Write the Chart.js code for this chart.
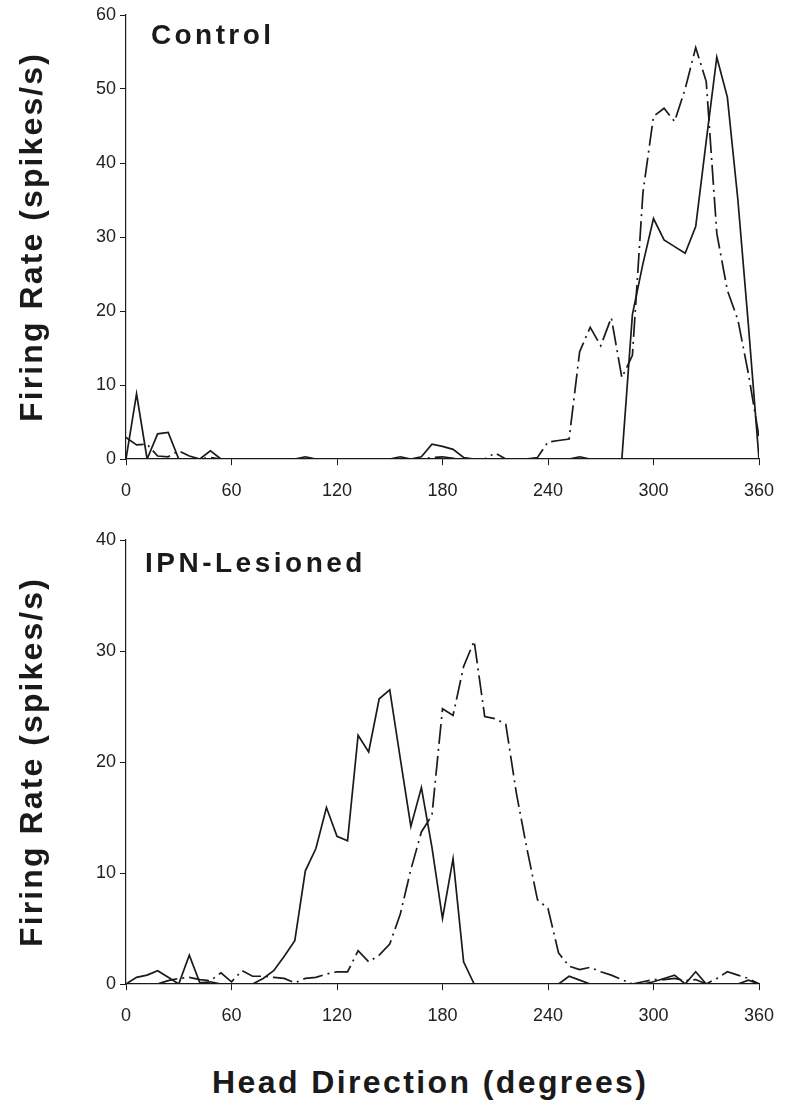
<!DOCTYPE html>
<html>
<head>
<meta charset="utf-8">
<script src="https://cdn.jsdelivr.net/npm/chart.js@4.4.1/dist/chart.umd.min.js"></script>
<style>
  html, body { margin: 0; padding: 0; background: #ffffff; }
  #wrap { position: relative; width: 785px; height: 1108px; overflow: hidden; font-family: "Liberation Sans", Arial, Helvetica, sans-serif; color: #1a1a1a; }
  .box { position: absolute; left: 0; width: 785px; }
  .lbl { position: absolute; font-weight: bold; white-space: nowrap; line-height: 1; }
  .ytitle { position: absolute; font-weight: bold; font-size: 32px; letter-spacing: 2.1px; line-height: 32px; height: 32px; width: 420px; text-align: center; white-space: nowrap; transform: translate(-50%, -50%) rotate(-90deg); }
</style>
</head>
<body>
<div id="wrap">
  <div class="box" style="top:0; height:520px;"><canvas id="c1"></canvas></div>
  <div class="box" style="top:525px; height:510px;"><canvas id="c2"></canvas></div>
  <div class="lbl" style="left:151px; top:21px; font-size:28px; letter-spacing:3.4px;">Control</div>
  <div class="lbl" style="left:145px; top:549px; font-size:28px; letter-spacing:3.5px;">IPN-Lesioned</div>
  <div class="ytitle" style="left:31px; top:237px;">Firing Rate (spikes/s)</div>
  <div class="ytitle" style="left:31px; top:762px;">Firing Rate (spikes/s)</div>
  <div class="lbl" style="left:212px; top:1066px; font-size:32px; letter-spacing:2.4px;">Head Direction (degrees)</div>
</div>
<script>
// Head direction bins (degrees)
const angles = [0,6,12,18,24,30,36,42,48,54,60,66,72,78,84,90,96,102,108,114,120,126,132,138,144,150,156,162,168,174,180,186,192,198,204,210,216,222,228,234,240,246,252,258,264,270,276,282,288,294,300,306,312,318,324,330,336,342,348,354,360];

// Control panel
const controlSolid = [0,8.8,0,3.4,3.6,0,0,0,1.1,0,0,0,0,0,0,0,0,0.3,0,0,0,0,0,0,0,0,0.3,0,0.3,2.0,1.7,1.3,0.2,0,0,0,0,0,0,0,0,0,0,0.3,0,0,0,0,19.5,26.4,32.5,29.6,28.7,27.8,31.4,43,54.3,48.9,35,18,0];
const controlDashed = [2.9,1.9,2.0,0.4,0.3,1.1,0.4,0,0.2,0,0,0,0,0,0,0,0,0.1,0,0,0,0,0,0,0,0,0,0,0,0.2,0.3,0.1,0,0,0,0.8,0,0,0,0.2,2.3,2.5,2.7,14.5,17.8,15.3,19.1,11.0,14.0,36,46.3,47.4,45.6,50,55.6,51,30.5,22.8,18.8,11.5,3.0];

// IPN-lesioned panel
const lesionSolid = [0,0.6,0.8,1.2,0.6,0,2.6,0.1,0.2,0,0,0,0,0.5,1.2,2.5,3.9,10.2,12.2,15.9,13.3,12.9,22.4,20.9,25.7,26.5,20.3,14.2,17.7,12.3,5.9,11.3,2.0,0,0,0,0,0,0,0,0,0,0.7,0.35,0,0,0,0,0,0,0.2,0.5,0.8,0,1.1,0,0,0,0,0.35,0];
const lesionDashed = [0,0,0,0,0.3,0.5,0.6,0.4,0.3,1.0,0.2,1.2,0.7,0.7,0.6,0.5,0.1,0.5,0.6,0.9,1.1,1.1,3.0,2.0,2.6,3.6,6.3,10.3,13.7,15.2,24.8,24.2,28.6,30.9,24.1,23.9,23.4,17.2,12.2,7.6,6.8,2.8,1.6,1.3,1.5,1.1,0.8,0.4,0,0.2,0.4,0.4,0.5,0.3,0.4,0,0.5,1.1,0.8,0.5,0];

// Axis ticks
const xTicks = [0,60,120,180,240,300,360];
const yTicksControl = [0,10,20,30,40,50,60];
const yTicksLesion = [0,10,20,30,40];

const INK = '#1a1a1a';
const FONT = '"Liberation Sans", Arial, Helvetica, sans-serif';

function pts(vals) { return vals.map((v, i) => ({ x: angles[i], y: v })); }

function makeChart(id, solid, dashed, yTicks, xAxisHeight, padTop) {
  const yMax = yTicks[yTicks.length - 1];
  return new Chart(document.getElementById(id), {
    type: 'line',
    data: {
      datasets: [
        { data: pts(solid), borderColor: INK, borderWidth: 1.7, pointRadius: 0, tension: 0, fill: false },
        { data: pts(dashed), borderColor: INK, borderWidth: 1.7, borderDash: [20, 5, 2, 5], pointRadius: 0, tension: 0, fill: false }
      ]
    },
    options: {
      responsive: true,
      maintainAspectRatio: false,
      animation: false,
      events: [],
      layout: { padding: { left: 0, right: 26, top: padTop, bottom: 0 } },
      plugins: { legend: { display: false }, tooltip: { enabled: false }, title: { display: false } },
      scales: {
        x: {
          type: 'linear', min: 0, max: 360,
          afterBuildTicks: (s) => { s.ticks = xTicks.map(v => ({ value: v })); },
          afterFit: (s) => { s.height = xAxisHeight; },
          grid: { display: true, drawOnChartArea: false, drawTicks: true, tickLength: 15, tickBorderDash: [6, 40], color: INK, lineWidth: 1 },
          border: { display: true, color: INK, width: 1.2 },
          ticks: { color: '#222', font: { family: FONT, size: 18 }, padding: 6, maxRotation: 0, autoSkip: false }
        },
        y: {
          type: 'linear', min: 0, max: yMax,
          afterBuildTicks: (s) => { s.ticks = yTicks.map(v => ({ value: v })); },
          afterFit: (s) => { s.width = 126; },
          grid: { display: true, drawOnChartArea: false, drawTicks: true, tickLength: 6, color: INK, lineWidth: 1 },
          border: { display: true, color: INK, width: 1.2 },
          ticks: { color: '#222', font: { family: FONT, size: 18 }, padding: 4 }
        }
      }
    }
  });
}

makeChart('c1', controlSolid, controlDashed, yTicksControl, 61, 15);
makeChart('c2', lesionSolid, lesionDashed, yTicksLesion, 51, 15);
</script>
</body>
</html>
